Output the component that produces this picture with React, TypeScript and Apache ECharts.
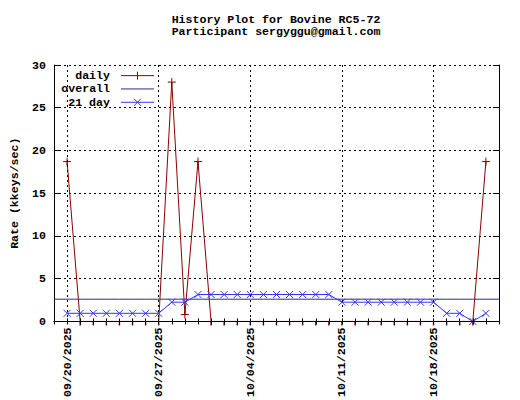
import React, { useEffect, useRef } from "react";
import * as echarts from "echarts";

const categories = [
  "09/19/2025", "09/20/2025", "09/21/2025", "09/22/2025", "09/23/2025", "09/24/2025", "09/25/2025",
  "09/26/2025", "09/27/2025", "09/28/2025", "09/29/2025", "09/30/2025", "10/01/2025", "10/02/2025",
  "10/03/2025", "10/04/2025", "10/05/2025", "10/06/2025", "10/07/2025", "10/08/2025", "10/09/2025",
  "10/10/2025", "10/11/2025", "10/12/2025", "10/13/2025", "10/14/2025", "10/15/2025", "10/16/2025",
  "10/17/2025", "10/18/2025", "10/19/2025", "10/20/2025", "10/21/2025", "10/22/2025", "10/23/2025",
];

const tickLabels = ["09/20/2025", "09/27/2025", "10/04/2025", "10/11/2025", "10/18/2025"];

const dailyValues: (number | null)[] = [
  null, 18.7, 0, 0, 0, 0, 0,
  0, 0, 28.0, 0.8, 18.7, 0, 0,
  0, 0, 0, 0, 0, 0, 0,
  0, 0, 0, 0, 0, 0, 0,
  0, 0, 0, 0, 0, 18.7, null,
];

const day21Values: (number | null)[] = [
  null, 0.95, 0.95, 0.95, 0.95, 0.95, 0.95,
  0.95, 0.95, 2.25, 2.25, 3.15, 3.15, 3.15,
  3.15, 3.15, 3.15, 3.15, 3.15, 3.15, 3.15,
  3.15, 2.25, 2.25, 2.25, 2.25, 2.25, 2.25,
  2.25, 2.25, 0.95, 0.95, 0, 0.95, null,
];

const overallRate = 2.6;

const yTicks = [0, 5, 10, 15, 20, 25, 30];

const FONT = "'Liberation Mono', 'DejaVu Sans Mono', monospace";
const FS = 11.6;

const PLUS = "path://M0,5 L10,5 M5,0 L5,10";
const CROSS = "path://M0,0 L10,10 M10,0 L0,10";
const HALF = "path://M0,0 L10,0 M5,0 L5,5";

const LEG_DAILY = "path://M0,4 L33,4 M16.5,0 L16.5,8";
const LEG_OVERALL = "path://M0,0 L0,0 M0,4 L33,4 M33,8 L33,8";
const LEG_21 = "path://M0,4 L33,4 M13,0.5 L20,7.5 M20,0.5 L13,7.5 M0,0 L0,0 M33,8 L33,8";

const C_DAILY = "#8b0000";
const C_OVERALL = "#2c2c88";
const C_21 = "#3535ff";

export default function App() {
  const ref = useRef<HTMLDivElement>(null);

  useEffect(() => {
    if (!ref.current) return;
    const chart = echarts.init(ref.current, null, { renderer: "svg" });
    const isLabeled = (_i: number, v: string) => tickLabels.includes(v);

    const dailyData = dailyValues.map((v) =>
      v === 0
        ? { value: v, symbol: HALF, symbolSize: [8, 4], symbolOffset: [0, 2] }
        : v
    );

    const textBase = { fontFamily: FONT, fontWeight: "bold" as const, fontSize: FS, color: "#000" };

    const titleStyle = (text: string) => ({
      text,
      textAlign: "center",
      textVerticalAlign: "middle",
      align: "center",
      verticalAlign: "middle",
      fill: "#000",
      font: `bold ${FS}px ${FONT}`,
    });

    chart.setOption({
      animation: false,
      backgroundColor: "#fff",
      graphic: [
        { type: "text", x: 276, y: 19, style: titleStyle("History Plot for Bovine RC5-72") },
        { type: "text", x: 276, y: 31, style: titleStyle("Participant sergyggu@gmail.com") },
      ],
      legend: {
        orient: "vertical",
        left: 55,
        top: 64,
        align: "right",
        itemWidth: 33,
        itemHeight: 8,
        itemGap: 0,
        selectedMode: false,
        data: [
          { name: "daily", icon: LEG_DAILY, itemStyle: { color: "none", borderColor: C_DAILY, borderWidth: 1 } },
          { name: "overall", icon: LEG_OVERALL, itemStyle: { color: "none", borderColor: C_OVERALL, borderWidth: 1 } },
          { name: "21 day", icon: LEG_21, itemStyle: { color: "none", borderColor: C_21, borderWidth: 1 } },
        ],
        textStyle: {
          ...textBase,
          width: 50,
          align: "right",
          lineHeight: 13.3,
          padding: [0, 6, 0, 0],
        },
      },
      grid: { left: 54, right: 21, top: 65, bottom: 78, containLabel: false },
      xAxis: [
        {
          type: "category",
          data: categories,
          boundaryGap: false,
          position: "bottom",
          z: 3,
          axisLine: { show: true, lineStyle: { color: "#000", width: 1 } },
          axisTick: { show: true, inside: true, length: 3, interval: 0, lineStyle: { color: "#000" } },
          axisLabel: {
            ...textBase,
            rotate: 90,
            margin: 6,
            interval: isLabeled,
          },
          splitLine: {
            show: true,
            interval: isLabeled,
            lineStyle: { color: "#000", type: [2, 3], width: 1 },
          },
        },
        {
          type: "category",
          data: categories,
          boundaryGap: false,
          position: "top",
          z: 3,
          axisLine: { show: true, lineStyle: { color: "#000", width: 1 } },
          axisTick: { show: true, inside: true, length: 3, interval: 0, lineStyle: { color: "#000" } },
          axisLabel: { show: false },
          splitLine: { show: false },
        },
      ],
      yAxis: [
        {
          type: "value",
          min: yTicks[0],
          max: yTicks[yTicks.length - 1],
          interval: 5,
          position: "left",
          name: "Rate (kkeys/sec)",
          nameLocation: "middle",
          nameGap: 34,
          nameTextStyle: { ...textBase },
          axisLine: { show: true, lineStyle: { color: "#000", width: 1 } },
          axisTick: { show: true, inside: true, length: 6, lineStyle: { color: "#000" } },
          axisLabel: { ...textBase, margin: 8 },
          splitLine: { show: true, lineStyle: { color: "#000", type: [2, 3], width: 1 } },
        },
        {
          type: "value",
          min: yTicks[0],
          max: yTicks[yTicks.length - 1],
          interval: 5,
          position: "right",
          axisLine: { show: true, lineStyle: { color: "#000", width: 1 } },
          axisTick: { show: true, inside: true, length: 6, lineStyle: { color: "#000" } },
          axisLabel: { show: false },
          splitLine: { show: false },
        },
      ],
      series: [
        {
          name: "daily",
          type: "line",
          data: dailyData,
          color: C_DAILY,
          symbol: PLUS,
          symbolSize: 8,
          showAllSymbol: true,
          lineStyle: { color: C_DAILY, width: 1 },
          itemStyle: { color: C_DAILY, borderColor: C_DAILY, borderWidth: 1 },
          emphasis: { disabled: true },
          z: 2,
        },
        {
          name: "overall",
          type: "line",
          data: categories.map(() => overallRate),
          color: C_OVERALL,
          symbol: "none",
          lineStyle: { color: C_OVERALL, width: 1 },
          itemStyle: { color: C_OVERALL },
          emphasis: { disabled: true },
          z: 2,
        },
        {
          name: "21 day",
          type: "line",
          data: day21Values,
          color: C_21,
          symbol: CROSS,
          symbolSize: 7,
          showAllSymbol: true,
          lineStyle: { color: C_21, width: 1 },
          itemStyle: { color: C_21, borderColor: C_21, borderWidth: 1 },
          emphasis: { disabled: true },
          z: 2,
        },
      ],
    });

    return () => chart.dispose();
  }, []);

  return (
    <div
      ref={ref}
      style={{ position: "absolute", left: 0, top: 0, width: 520, height: 400, background: "#fff" }}
    />
  );
}
